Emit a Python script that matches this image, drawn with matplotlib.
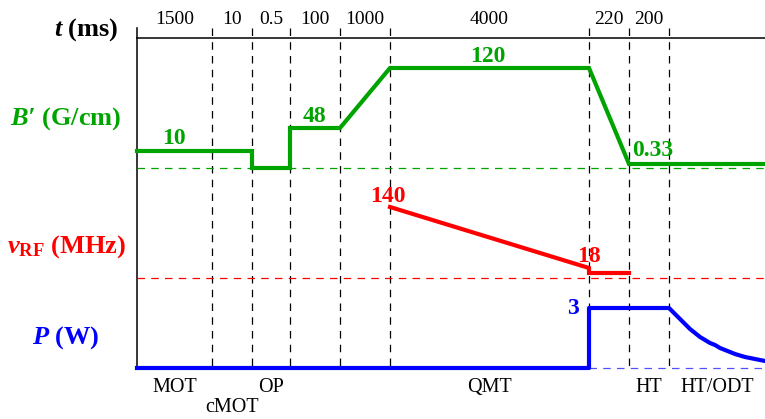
import numpy as np
import matplotlib.pyplot as plt

plt.rcParams['font.family'] = ['Liberation Serif', 'DejaVu Serif']
plt.rcParams['mathtext.fontset'] = 'custom'
plt.rcParams['mathtext.rm'] = 'Liberation Serif'
plt.rcParams['mathtext.it'] = 'Liberation Serif:italic'
plt.rcParams['mathtext.bf'] = 'Liberation Serif:bold'
plt.rcParams['mathtext.bfit'] = 'Liberation Serif:bold:italic'

# schematic time slots (drawn width is not proportional to duration)
edges = [137, 212, 252, 290, 340, 390, 589, 629, 669, 765]
durations = ['1500', '10', '0.5', '100', '1000', '4000', '220', '200', '']
phases = ['MOT', 'cMOT', 'OP', '', '', 'QMT', '', 'HT', 'HT/ODT']

# B' gradient (schematic height above its baseline)
b_x = [edges[0], edges[2], edges[2], edges[3], edges[3], edges[4], edges[5], edges[6], edges[7], edges[9]]
b_h = [17, 17, 0, 0, 40, 40, 100, 100, 4, 4]
b_text = ['10', '48', '120', '0.33']
b_text_x = [174, 314, 488, 653]
b_text_h = [30, 52, 112, 18]

# RF frequency
rf_x = [edges[5], edges[6], edges[6], edges[7]]
rf_h = [71, 10, 5, 5]
rf_text = ['140', '18']
rf_text_x = [388, 589]
rf_text_h = [82, 22]

# dipole laser power, with the evaporation ramp
p_x = [edges[0], edges[6], edges[6], edges[8],
       675, 680, 685, 690, 695, 700, 705, 710, 715, 720,
       725, 730, 735, 740, 745, 750, 755, 760, 765]
p_h = [0, 0, 60, 60,
       54, 49, 44, 39, 35, 31, 28, 25, 23, 20,
       18, 16, 14, 12.5, 11, 10, 9, 8, 7]

green = '#00a400'
red = '#ff0000'
blue = '#0000ff'
b_base, rf_base, p_base = 168, 278, 368

fig = plt.figure(figsize=(7.65, 4.19), dpi=100)
ax = fig.add_axes([0, 0, 1, 1])
ax.set_xlim(0, 765)
ax.set_ylim(419, 0)
ax.axis('off')

# frame
ax.plot([edges[0], edges[-1]], [38, 38], color='k', lw=1.1)
ax.plot([edges[0], edges[0]], [28, p_base], color='k', lw=1.1)
for x in edges[1:-1]:
    ax.plot([x, x], [28, p_base - 1], color='k', lw=0.9, ls=(0, (6, 5)))

# baselines
ax.plot([edges[0], edges[-1]], [b_base, b_base], color=green, lw=0.9, ls=(0, (6, 5)))
ax.plot([edges[0], edges[-1]], [rf_base, rf_base], color=red, lw=0.9, ls=(0, (6, 5)))
ax.plot([edges[6], edges[-1]], [p_base, p_base], color='#5050ff', lw=0.9, ls=(0, (6, 5)))

# traces
ax.plot(b_x, b_base - np.array(b_h), color=green, lw=3, solid_joinstyle='miter')
ax.plot(rf_x, rf_base - np.array(rf_h), color=red, lw=3, solid_joinstyle='miter')
ax.plot(p_x, p_base - np.array(p_h), color=blue, lw=3, solid_joinstyle='round')

for s, x, h in zip(b_text, b_text_x, b_text_h):
    ax.text(x, b_base - h, s, color=green, fontsize=17, fontweight='bold', ha='center', va='center')
for s, x, h in zip(rf_text, rf_text_x, rf_text_h):
    ax.text(x, rf_base - h, s, color=red, fontsize=17, fontweight='bold', ha='center', va='center')
ax.text(573, p_base - 60, '3', color=blue, fontsize=17, fontweight='bold', ha='center', va='center')

# durations and phase names
for i, s in enumerate(durations):
    xc = (edges[i] + edges[i + 1]) / 2
    ax.text(xc, 19, s, fontsize=14, ha='center', va='center')
for i, s in enumerate(phases):
    xc = (edges[i] + edges[i + 1]) / 2
    yc = 407 if s == 'cMOT' else 387
    ax.text(xc, yc, s, fontsize=14.5, ha='center', va='center')

# row labels
ax.text(118, 30, r'$\mathbfit{t}\ \mathbf{(ms)}$', fontsize=19, ha='right', va='center')
ax.text(66, 119, '$\\mathbfit{B\u2032}\\ \\mathbf{(G/cm)}$', color=green, fontsize=19, ha='center', va='center')
ax.text(66, 247, r'$\mathbfit{\nu}_{\mathbf{RF}}\ \mathbf{(MHz)}$', color=red, fontsize=19, ha='center', va='center')
ax.text(66, 338, r'$\mathbfit{P}\ \mathbf{(W)}$', color=blue, fontsize=19, ha='center', va='center')

fig.savefig('out.png', dpi=100)
